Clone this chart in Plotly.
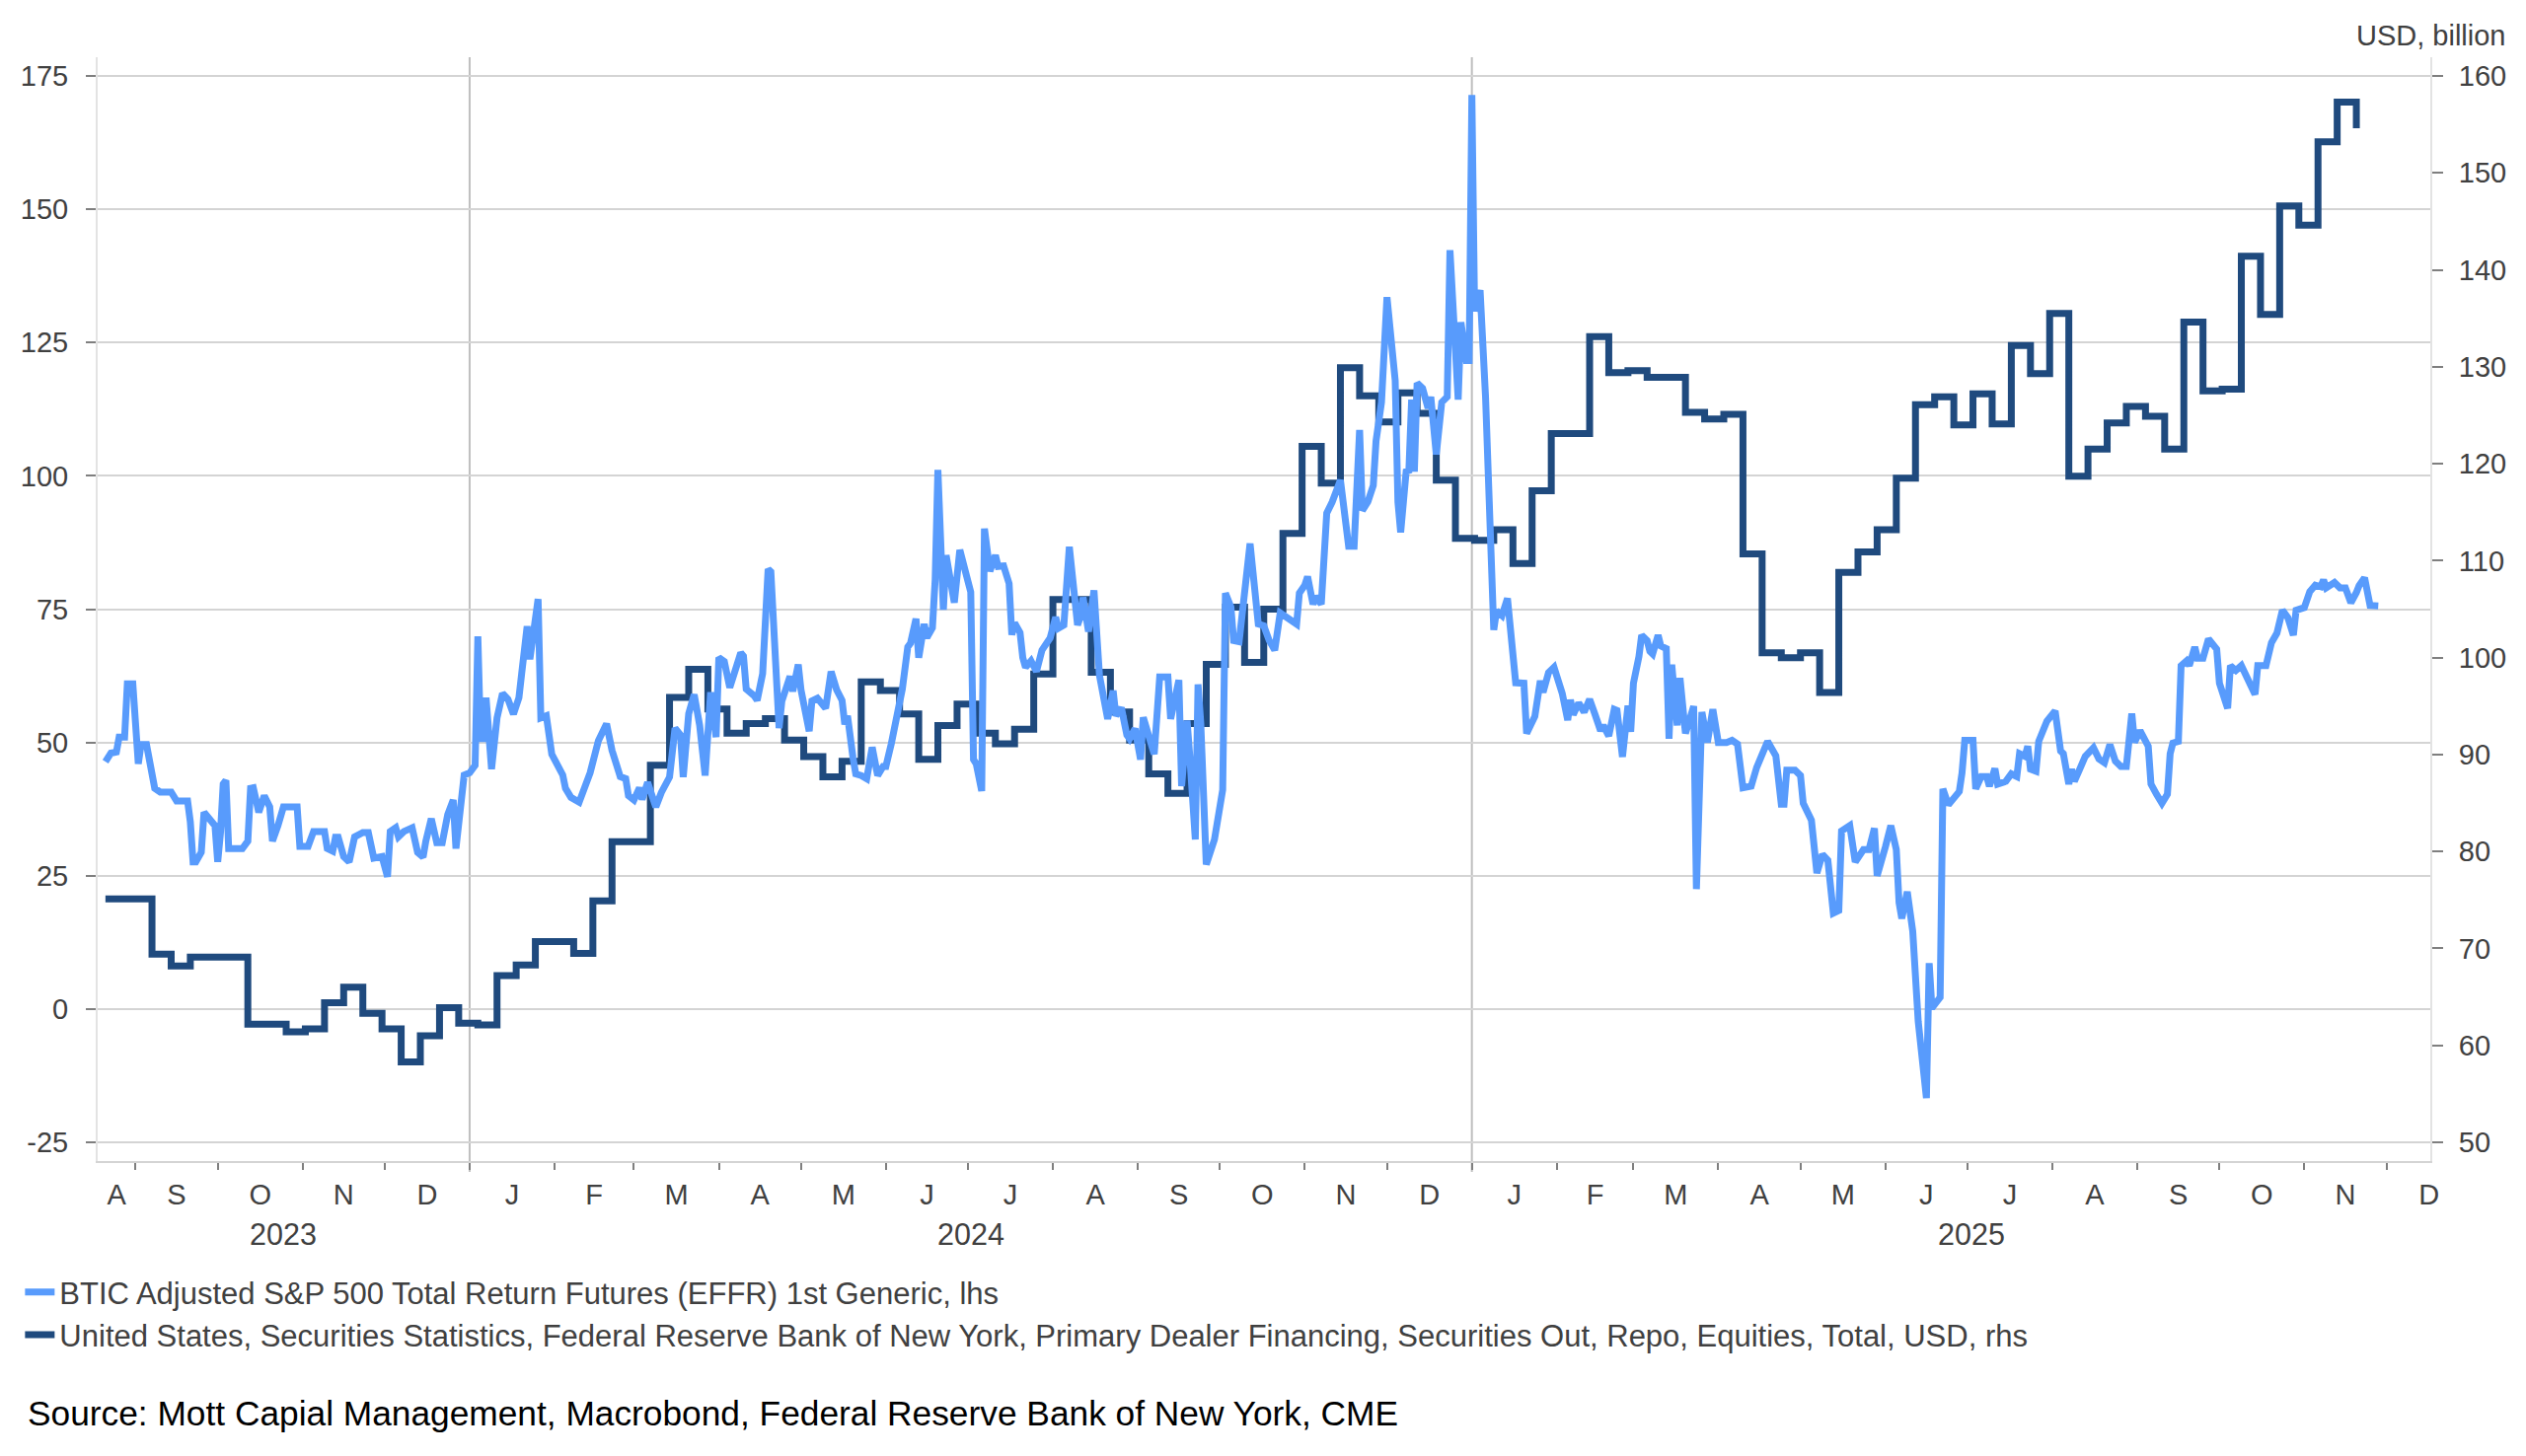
import plotly.graph_objects as go
import pandas as pd

# ---------------- data ----------------
light_name = "BTIC Adjusted S&P 500 Total Return Futures (EFFR) 1st Generic, lhs"
dark_name = ("United States, Securities Statistics, Federal Reserve Bank of New York, "
             "Primary Dealer Financing, Securities Out, Repo, Equities, Total, USD, rhs")
source_text = "Source: Mott Capial Management, Macrobond, Federal Reserve Bank of New York, CME"
right_axis_title = "USD, billion"

light_dates = [
    "2023-08-21", "2023-08-23", "2023-08-25", "2023-08-26", "2023-08-28", "2023-08-29", "2023-08-31",
    "2023-09-02", "2023-09-03", "2023-09-05", "2023-09-08", "2023-09-10", "2023-09-14", "2023-09-16",
    "2023-09-20", "2023-09-21", "2023-09-22", "2023-09-23", "2023-09-25", "2023-09-26", "2023-09-30",
    "2023-10-01", "2023-10-02", "2023-10-03", "2023-10-04", "2023-10-05", "2023-10-10", "2023-10-12",
    "2023-10-13", "2023-10-14", "2023-10-16", "2023-10-18", "2023-10-20", "2023-10-21", "2023-10-23",
    "2023-10-25", "2023-10-30", "2023-10-31", "2023-11-03", "2023-11-05", "2023-11-09", "2023-11-10",
    "2023-11-12", "2023-11-13", "2023-11-14", "2023-11-16", "2023-11-18", "2023-11-20", "2023-11-23",
    "2023-11-25", "2023-11-27", "2023-11-30", "2023-12-02", "2023-12-03", "2023-12-05", "2023-12-06",
    "2023-12-08", "2023-12-11", "2023-12-13", "2023-12-15", "2023-12-16", "2023-12-18", "2023-12-20",
    "2023-12-22", "2023-12-24", "2023-12-26", "2023-12-27", "2023-12-29", "2023-12-30",
    "2024-01-01", "2024-01-03", "2024-01-04", "2024-01-05", "2024-01-06", "2024-01-07", "2024-01-09",
    "2024-01-11", "2024-01-13", "2024-01-15", "2024-01-17", "2024-01-19", "2024-01-20", "2024-01-22",
    "2024-01-23", "2024-01-26", "2024-01-27", "2024-01-29", "2024-01-31", "2024-02-02", "2024-02-04",
    "2024-02-05", "2024-02-07", "2024-02-10", "2024-02-11", "2024-02-14", "2024-02-17", "2024-02-20",
    "2024-02-22", "2024-02-25", "2024-02-27", "2024-02-28", "2024-03-01", "2024-03-03", "2024-03-04",
    "2024-03-06", "2024-03-09", "2024-03-11", "2024-03-14", "2024-03-16", "2024-03-18", "2024-03-19",
    "2024-03-21", "2024-03-23", "2024-03-25", "2024-03-27", "2024-03-29", "2024-03-31", "2024-04-01",
    "2024-04-03", "2024-04-05", "2024-04-07", "2024-04-09", "2024-04-10", "2024-04-11", "2024-04-14",
    "2024-04-15", "2024-04-17", "2024-04-19", "2024-04-20", "2024-04-22", "2024-04-23", "2024-04-24",
    "2024-04-26", "2024-04-27", "2024-04-28", "2024-04-30", "2024-05-01", "2024-05-04", "2024-05-05",
    "2024-05-07", "2024-05-10", "2024-05-11", "2024-05-12", "2024-05-14", "2024-05-16", "2024-05-17",
    "2024-05-18", "2024-05-20", "2024-05-21", "2024-05-23", "2024-05-25", "2024-05-27", "2024-05-29",
    "2024-05-31", "2024-06-01", "2024-06-03", "2024-06-05", "2024-06-07", "2024-06-09", "2024-06-10",
    "2024-06-12", "2024-06-13", "2024-06-15", "2024-06-16", "2024-06-18", "2024-06-19", "2024-06-20",
    "2024-06-21", "2024-06-22", "2024-06-23", "2024-06-25", "2024-06-26", "2024-06-28", "2024-07-01",
    "2024-07-02", "2024-07-03", "2024-07-04", "2024-07-06", "2024-07-07", "2024-07-09", "2024-07-11",
    "2024-07-12", "2024-07-14", "2024-07-16", "2024-07-17", "2024-07-18", "2024-07-20", "2024-07-21",
    "2024-07-22", "2024-07-24", "2024-07-26", "2024-07-28", "2024-07-31", "2024-08-02", "2024-08-03",
    "2024-08-05", "2024-08-07", "2024-08-10", "2024-08-11", "2024-08-12", "2024-08-14", "2024-08-16",
    "2024-08-18", "2024-08-21", "2024-08-23", "2024-08-24", "2024-08-26", "2024-08-28", "2024-08-29",
    "2024-08-31", "2024-09-01", "2024-09-02", "2024-09-03", "2024-09-05", "2024-09-07", "2024-09-09",
    "2024-09-12", "2024-09-13", "2024-09-16", "2024-09-17", "2024-09-19", "2024-09-20", "2024-09-22",
    "2024-09-23", "2024-09-24", "2024-09-26", "2024-09-28", "2024-09-29", "2024-10-02", "2024-10-03",
    "2024-10-05", "2024-10-06", "2024-10-08", "2024-10-10", "2024-10-12", "2024-10-15", "2024-10-17",
    "2024-10-19", "2024-10-21", "2024-10-23", "2024-10-29", "2024-10-30", "2024-11-01", "2024-11-02",
    "2024-11-04", "2024-11-05", "2024-11-07", "2024-11-09", "2024-11-11", "2024-11-14", "2024-11-16",
    "2024-11-17", "2024-11-19", "2024-11-21", "2024-11-22", "2024-11-24", "2024-11-26", "2024-11-27",
    "2024-11-29", "2024-12-01", "2024-12-04", "2024-12-05", "2024-12-06", "2024-12-08", "2024-12-09",
    "2024-12-10", "2024-12-11", "2024-12-12", "2024-12-14", "2024-12-16", "2024-12-17", "2024-12-19",
    "2024-12-21", "2024-12-23", "2024-12-24", "2024-12-27", "2024-12-28", "2024-12-30", "2024-12-31",
    "2025-01-01", "2025-01-02", "2025-01-04", "2025-01-06", "2025-01-08", "2025-01-09", "2025-01-10",
    "2025-01-12", "2025-01-14", "2025-01-17", "2025-01-20", "2025-01-21", "2025-01-24", "2025-01-26",
    "2025-01-27", "2025-01-29", "2025-01-31", "2025-02-03", "2025-02-05", "2025-02-06", "2025-02-07",
    "2025-02-09", "2025-02-11", "2025-02-13", "2025-02-15", "2025-02-17", "2025-02-18", "2025-02-20",
    "2025-02-22", "2025-02-23", "2025-02-25", "2025-02-27", "2025-02-28", "2025-03-01", "2025-03-03",
    "2025-03-04", "2025-03-06", "2025-03-07", "2025-03-08", "2025-03-10", "2025-03-11", "2025-03-13",
    "2025-03-14", "2025-03-15", "2025-03-17", "2025-03-18", "2025-03-20", "2025-03-23", "2025-03-24",
    "2025-03-26", "2025-03-28", "2025-03-30", "2025-04-01", "2025-04-04", "2025-04-06", "2025-04-08",
    "2025-04-10", "2025-04-13", "2025-04-15", "2025-04-17", "2025-04-19", "2025-04-22", "2025-04-24",
    "2025-04-25", "2025-04-26", "2025-04-29", "2025-05-01", "2025-05-02", "2025-05-05", "2025-05-07",
    "2025-05-09", "2025-05-11", "2025-05-13", "2025-05-15", "2025-05-16", "2025-05-19", "2025-05-21",
    "2025-05-24", "2025-05-26", "2025-05-28", "2025-05-29", "2025-06-01", "2025-06-03", "2025-06-05",
    "2025-06-06", "2025-06-07", "2025-06-09", "2025-06-11", "2025-06-13", "2025-06-16", "2025-06-17",
    "2025-06-18", "2025-06-21", "2025-06-22", "2025-06-24", "2025-06-28", "2025-06-29", "2025-06-30",
    "2025-07-03", "2025-07-04", "2025-07-06", "2025-07-08", "2025-07-09", "2025-07-11", "2025-07-12",
    "2025-07-15", "2025-07-17", "2025-07-19", "2025-07-20", "2025-07-22", "2025-07-23", "2025-07-24",
    "2025-07-26", "2025-07-27", "2025-07-29", "2025-07-30", "2025-08-02", "2025-08-04", "2025-08-05",
    "2025-08-07", "2025-08-08", "2025-08-09", "2025-08-11", "2025-08-13", "2025-08-16", "2025-08-18",
    "2025-08-20", "2025-08-22", "2025-08-24", "2025-08-26", "2025-08-28", "2025-08-30", "2025-08-31",
    "2025-09-02", "2025-09-05", "2025-09-06", "2025-09-08", "2025-09-10", "2025-09-12", "2025-09-13",
    "2025-09-14", "2025-09-16", "2025-09-17", "2025-09-19", "2025-09-20", "2025-09-22", "2025-09-23",
    "2025-09-25", "2025-09-27", "2025-09-30", "2025-10-01", "2025-10-04", "2025-10-05", "2025-10-07",
    "2025-10-09", "2025-10-11", "2025-10-14", "2025-10-15", "2025-10-18", "2025-10-20", "2025-10-22",
    "2025-10-24", "2025-10-26", "2025-10-28", "2025-10-29", "2025-11-01", "2025-11-03", "2025-11-05",
    "2025-11-07", "2025-11-08", "2025-11-09", "2025-11-12", "2025-11-14", "2025-11-16", "2025-11-18",
    "2025-11-20", "2025-11-21", "2025-11-23", "2025-11-25", "2025-11-28",
]
light_values = [
    46.4, 48.0, 48.2, 51.0, 51.0, 61.0, 61.0,
    46.0, 49.6, 49.6, 41.4, 40.7, 40.7, 39.0,
    39.0, 35.1, 27.6, 27.6, 29.4, 36.9, 34.4,
    27.6, 33.0, 42.2, 42.9, 30.1, 30.1, 31.5,
    41.4, 41.5, 36.9, 40.0, 37.9, 31.5, 34.4,
    37.9, 37.9, 30.5, 30.5, 33.3, 33.3, 30.1,
    29.6, 32.2, 32.2, 28.6, 27.6, 32.3, 33.1,
    33.1, 28.3, 28.6, 24.8, 33.3, 34.0, 32.3,
    33.3, 34.0, 29.4, 28.5, 31.5, 35.7, 31.2,
    31.2, 36.5, 39.2, 30.1, 40.0, 43.9,
    44.3, 45.7, 69.9, 50.7, 50.7, 58.4, 45.0,
    54.6, 59.2, 58.1, 55.3, 58.4, 62.9, 71.8,
    65.6, 76.9, 54.6, 55.0, 47.8, 46.0, 43.9,
    41.4, 39.7, 38.8, 40.0, 44.3, 50.3, 53.5,
    48.5, 43.6, 43.2, 40.0, 39.2, 41.5, 39.3,
    42.5, 37.9, 40.6, 43.5, 52.7, 51.4, 43.5,
    55.4, 59.0, 53.2, 43.8, 59.4, 51.0, 65.9,
    65.2, 60.3, 63.1, 66.8, 66.2, 60.0, 58.7,
    57.9, 62.9, 82.5, 82.0, 57.4, 52.7, 57.7,
    61.0, 62.4, 59.6, 64.6, 59.9, 52.1, 57.8,
    58.3, 56.4, 60.7, 63.3, 59.9, 57.9, 53.4,
    55.0, 47.1, 44.1, 43.8, 43.2, 49.1, 43.8,
    45.5, 45.5, 49.8, 54.7, 60.0, 67.9, 68.6,
    73.2, 65.9, 72.2, 69.7, 71.5, 80.5, 101.1,
    85.1, 74.9, 85.1, 77.9, 76.2, 86.1, 80.5,
    78.2, 46.8, 46.0, 40.9, 90.1, 82.1, 85.1,
    83.0, 83.1, 79.8, 70.2, 72.4, 70.6, 65.9,
    64.1, 65.3, 63.3, 67.3, 69.6, 73.5, 71.4,
    72.0, 86.7, 72.0, 73.5, 77.2, 70.8, 78.5,
    62.6, 54.4, 59.7, 55.0, 56.5, 51.4, 50.7,
    52.6, 48.5, 46.8, 54.7, 50.7, 47.8, 62.3,
    62.3, 54.4, 61.7, 41.8, 54.1, 47.3, 31.8,
    60.9, 53.6, 27.1, 30.7, 31.8, 41.1, 78.0,
    75.4, 69.1, 68.9, 76.9, 87.3, 72.2, 71.9,
    69.1, 67.3, 74.3, 72.2, 78.0, 79.5, 81.1,
    75.9, 77.4, 75.9, 93.0, 95.1, 99.2, 92.0,
    86.8, 86.8, 108.6, 93.5, 95.1, 98.2, 106.5,
    113.8, 133.5, 117.9, 95.1, 89.4, 100.8, 101.0,
    114.3, 100.8, 117.4, 116.4, 112.7, 114.8, 104.0,
    113.8, 114.8, 142.3, 114.3, 128.8, 121.6, 121.6,
    171.4, 130.9, 134.8, 114.7, 88.9, 71.1, 74.7,
    73.8, 77.0, 61.2, 61.1, 51.7, 54.9, 61.6,
    59.4, 63.1, 64.1, 59.2, 54.2, 58.0, 55.2,
    57.4, 55.7, 58.1, 55.2, 52.2, 53.2, 51.2,
    56.2, 56.0, 47.3, 56.9, 52.0, 61.1, 66.1,
    70.1, 69.1, 67.1, 66.6, 70.1, 68.1, 67.6,
    50.7, 64.6, 53.2, 62.1, 51.7, 56.8, 22.5,
    55.7, 50.0, 56.2, 50.0, 50.0, 50.4, 49.7,
    41.5, 41.8, 45.3, 47.8, 50.2, 47.5, 38.4,
    38.4, 44.8, 44.8, 43.8, 38.6, 35.4, 25.5,
    29.0, 27.9, 18.0, 18.5, 33.4, 34.4, 27.6,
    29.9, 29.9, 33.9, 25.0, 30.4, 34.4, 29.9,
    20.0, 17.0, 22.0, 14.6, -2.3, -16.7, 8.6,
    0.2, 2.2, 41.3, 38.3, 40.8, 44.3, 50.4,
    50.4, 41.3, 43.6, 43.6, 41.8, 45.1, 42.2,
    42.7, 44.1, 43.6, 47.9, 47.4, 49.3, 45.0,
    44.6, 50.2, 52.6, 54.0, 55.9, 48.4, 47.9,
    42.2, 45.0, 42.7, 45.0, 47.4, 49.0, 46.9,
    46.2, 49.6, 46.5, 45.5, 45.5, 55.4, 50.0,
    52.2, 49.3, 42.2, 40.3, 38.6, 40.3, 47.9,
    49.9, 50.2, 64.4, 65.3, 64.4, 67.9, 65.8,
    65.8, 69.4, 67.5, 61.1, 56.4, 64.4, 63.5,
    64.4, 62.5, 59.0, 64.4, 64.4, 68.7, 70.5,
    74.8, 73.4, 70.1, 74.8, 75.3, 78.3, 79.5,
    79.2, 80.5, 79.0, 80.0, 79.0, 79.0, 76.2,
    78.1, 79.4, 80.9, 75.7, 75.6,
]

dark_dates = [
    "2023-08-21", "2023-08-24", "2023-08-31", "2023-09-07", "2023-09-14", "2023-09-21", "2023-09-28",
    "2023-10-05", "2023-10-12", "2023-10-19", "2023-10-26", "2023-11-02", "2023-11-09", "2023-11-16",
    "2023-11-23", "2023-11-30", "2023-12-07", "2023-12-14", "2023-12-21", "2023-12-28",
    "2024-01-04", "2024-01-11", "2024-01-18", "2024-01-25", "2024-02-01", "2024-02-08", "2024-02-15",
    "2024-02-22", "2024-02-29", "2024-03-07", "2024-03-14", "2024-03-21", "2024-03-28", "2024-04-04",
    "2024-04-11", "2024-04-18", "2024-04-25", "2024-05-02", "2024-05-09", "2024-05-16", "2024-05-23",
    "2024-05-30", "2024-06-06", "2024-06-13", "2024-06-20", "2024-06-27", "2024-07-04", "2024-07-11",
    "2024-07-18", "2024-07-25", "2024-08-01", "2024-08-08", "2024-08-15", "2024-08-22", "2024-08-29",
    "2024-09-05", "2024-09-12", "2024-09-19", "2024-09-26", "2024-10-03", "2024-10-10", "2024-10-17",
    "2024-10-24", "2024-10-31", "2024-11-07", "2024-11-14", "2024-11-21", "2024-11-28", "2024-12-05",
    "2024-12-12", "2024-12-19", "2024-12-26",
    "2025-01-02", "2025-01-09", "2025-01-16", "2025-01-23", "2025-01-30", "2025-02-06", "2025-02-13",
    "2025-02-20", "2025-02-27", "2025-03-06", "2025-03-13", "2025-03-20", "2025-03-27", "2025-04-03",
    "2025-04-10", "2025-04-17", "2025-04-24", "2025-05-01", "2025-05-08", "2025-05-15", "2025-05-22",
    "2025-05-29", "2025-06-05", "2025-06-12", "2025-06-19", "2025-06-26", "2025-07-03", "2025-07-10",
    "2025-07-17", "2025-07-24", "2025-07-31", "2025-08-07", "2025-08-14", "2025-08-21", "2025-08-28",
    "2025-09-04", "2025-09-11", "2025-09-18", "2025-09-25", "2025-10-02", "2025-10-09", "2025-10-16",
    "2025-10-23", "2025-10-30", "2025-11-06", "2025-11-13", "2025-11-20",
]
dark_values = [
    75.1, 75.1, 75.1, 69.4, 68.2, 69.1, 69.1,
    69.1, 62.2, 62.2, 61.4, 61.7, 64.4, 66.0,
    63.3, 61.7, 58.3, 61.0, 63.9, 62.3,
    62.1, 67.2, 68.3, 70.7, 70.7, 69.5, 74.9,
    81.0, 81.0, 88.9, 95.9, 98.8, 94.7, 92.2,
    93.2, 93.7, 91.5, 89.8, 87.7, 89.3, 97.5,
    96.6, 94.2, 89.5, 93.0, 95.2, 92.2, 91.1,
    92.6, 98.3, 106.0, 106.0, 98.5, 94.4, 91.5,
    88.0, 86.0, 93.2, 99.3, 105.2, 99.5, 105.0,
    112.8, 121.8, 118.0, 129.9, 127.0, 124.3, 127.3,
    125.2, 118.3, 112.3,
    112.1, 113.2, 109.7, 117.2, 123.1, 123.1, 133.1,
    129.4, 129.6, 128.9, 128.9, 125.3, 124.6, 125.1,
    110.7, 100.5, 100.0, 100.5, 96.4, 108.8, 110.9,
    113.2, 118.5, 126.1, 126.9, 124.0, 127.2, 124.1,
    132.2, 129.3, 135.5, 118.7, 121.5, 124.2, 125.9,
    124.9, 121.5, 134.6, 127.5, 127.7, 141.4, 135.4,
    146.6, 144.6, 153.2, 157.3, 154.6,
]

left_ticks = [-25, 0, 25, 50, 75, 100, 125, 150, 175]
left_tick_labels = ["-25", "0", "25", "50", "75", "100", "125", "150", "175"]
right_ticks = [50, 60, 70, 80, 90, 100, 110, 120, 130, 140, 150, 160]
month_labels = ["A", "S", "O", "N", "D",
                "J", "F", "M", "A", "M", "J", "J", "A", "S", "O", "N", "D",
                "J", "F", "M", "A", "M", "J", "J", "A", "S", "O", "N", "D"]
year_labels = ["2023", "2024", "2025"]
year_boundaries = ["2024-01-01", "2025-01-01"]

# ---------------- styling ----------------
FONT = "Liberation Sans, Arial, Helvetica, sans-serif"
TXT = "#404040"
LIGHT = "#589BFC"
DARK = "#1F4A7E"
GRID = "#d4d4d4"

x_start = pd.Timestamp("2023-08-18 04:00")
x_end = pd.Timestamp("2025-12-17 00:00")

month_starts = pd.date_range("2023-08-01", "2025-12-01", freq="MS")
label_pos = []
for ms in month_starts:
    me = ms + pd.offsets.MonthBegin(1)
    a = max(ms, x_start)
    label_pos.append(a + (me - a) / 2)

year_pos = []
for y in year_labels:
    ys = pd.Timestamp(f"{y}-01-01")
    ye = pd.Timestamp(f"{int(y) + 1}-01-01")
    a = max(ys, x_start)
    year_pos.append(a + (ye - a) / 2)

fig = go.Figure()
fig.add_trace(go.Scatter(
    x=pd.to_datetime(dark_dates), y=dark_values, name=dark_name, yaxis="y",
    mode="lines", line=dict(color=DARK, width=7, shape="hv"),
    legendrank=2, legendgroup="b", hoverinfo="skip"))
fig.add_trace(go.Scatter(
    x=pd.to_datetime(light_dates), y=light_values, name=light_name, yaxis="y2",
    mode="lines", line=dict(color=LIGHT, width=7),
    legendrank=1, legendgroup="a", hoverinfo="skip"))

# page body has an 8px margin: the figure is sized to fit inside the window
OFF = 8
W, H = 2560 - 2 * OFF, 1476 - 2 * OFF
PL, PR, PT, PB = 93, 2468, 58, 1177          # plot area in window pixels
L, T = PL - OFF, PT - OFF
pw, ph = PR - PL, PB - PT
R, B = W - L - pw, H - T - ph

def px(xa):
    return (xa - PL) / pw

def py(ya):
    return (PB - ya) / ph

fig.update_layout(
    width=W, height=H, autosize=False,
    margin=dict(l=L, r=R, t=T, b=B, pad=0),
    paper_bgcolor="white", plot_bgcolor="white",
    font=dict(family=FONT, size=29, color=TXT),
    showlegend=True,
    legend=dict(orientation="v", x=px(14), xanchor="left", y=py(1283), yanchor="top",
                font=dict(family=FONT, size=31, color=TXT), bgcolor="rgba(0,0,0,0)",
                tracegroupgap=0, itemwidth=30, traceorder="grouped"),
    xaxis=dict(
        type="date", range=[x_start, x_end],
        tickmode="array", tickvals=label_pos, ticktext=month_labels,
        ticks="", showgrid=False, zeroline=False,
        showline=True, linecolor=GRID, linewidth=2,
        tickfont=dict(family=FONT, size=29, color=TXT),
        ticklabelstandoff=7,
        minor=dict(tickmode="array", tickvals=list(month_starts), ticks="outside",
                   ticklen=7, tickwidth=2, tickcolor="#7f7f7f", showgrid=False),
    ),
    yaxis=dict(
        side="right", range=[48.07, 161.93], tickmode="array", tickvals=right_ticks,
        showgrid=False, zeroline=False, ticks="outside", ticklen=11, tickwidth=2,
        tickcolor="#7f7f7f", showline=True, linecolor="#e3e3e3", linewidth=2,
        tickfont=dict(family=FONT, size=29, color=TXT), ticklabelstandoff=10,
    ),
    yaxis2=dict(
        side="left", overlaying="y", range=[-28.5, 178.5], tickmode="array",
        tickvals=left_ticks, ticktext=left_tick_labels,
        showgrid=True, gridcolor=GRID, gridwidth=1.5,
        zeroline=False, ticks="outside", ticklen=10, tickwidth=2, tickcolor="#7f7f7f",
        showline=True, linecolor="#e3e3e3", linewidth=2,
        tickfont=dict(family=FONT, size=29, color=TXT), ticklabelstandoff=12,
    ),
)

for yb in year_boundaries:
    fig.add_shape(type="line", xref="x", yref="paper", x0=yb, x1=yb,
                  y0=-11 / ph, y1=1, line=dict(color="#bfbfbf", width=2), layer="below")

for lab, pos in zip(year_labels, year_pos):
    fig.add_annotation(x=pos, y=py(1251), xref="x", yref="paper", text=lab,
                       showarrow=False, xanchor="center", yanchor="middle",
                       font=dict(family=FONT, size=30.5, color=TXT))

fig.add_annotation(x=px(2547), y=py(36), xref="paper", yref="paper", text=right_axis_title,
                   showarrow=False, xanchor="right", yanchor="middle",
                   font=dict(family=FONT, size=29, color=TXT))
fig.add_annotation(x=px(20), y=py(1432), xref="paper", yref="paper", text=source_text,
                   showarrow=False, xanchor="left", yanchor="middle",
                   font=dict(family=FONT, size=35.3, color="#000000"))

fig.write_html("out.html")
